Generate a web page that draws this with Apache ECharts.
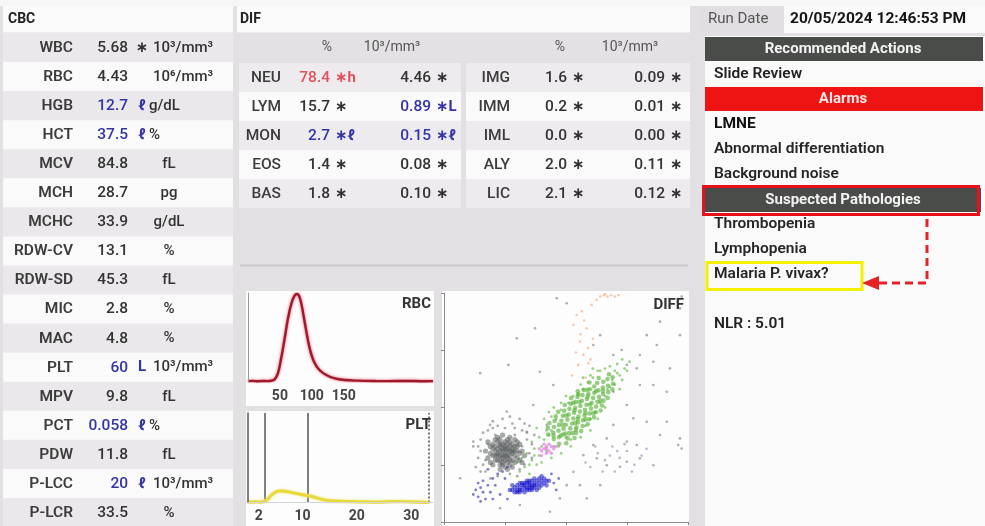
<!DOCTYPE html>
<html><head><meta charset="utf-8">
<script src="https://cdn.jsdelivr.net/npm/echarts@6/dist/echarts.min.js"></script>
<style>html,body{margin:0;padding:0;background:#e2e0e2}#c{width:985px;height:526px}</style>
</head><body><div id="c"></div>
<script>
// ---------------- DATA ----------------
const cbcLabels = ['WBC','RBC','HGB','HCT','MCV','MCH','MCHC','RDW-CV','RDW-SD','MIC','MAC','PLT','MPV','PCT','PDW','P-LCC','P-LCR'];
const cbcValues = ['5.68','4.43','12.7','37.5','84.8','28.7','33.9','13.1','45.3','2.8','4.8','60','9.8','0.058','11.8','20','33.5'];
const cbcFlags  = ['*','','ℓ','ℓ','','','','','','','','L','','ℓ','','ℓ',''];
const cbcState  = ['','','low','low','','','','','','','','low','','low','','low',''];
const cbcUnits  = ['10³/mm³','10⁶/mm³','g/dL','%','fL','pg','g/dL','%','fL','%','%','10³/mm³','fL','%','fL','10³/mm³','%'];

const difUnitHeaders = ['%','10³/mm³'];
const difLeftLabels = ['NEU','LYM','MON','EOS','BAS'];
const difLeftPct = ['78.4','15.7','2.7','1.4','1.8'];
const difLeftPctFlag = ['*h','*','*ℓ','*','*'];
const difLeftPctState = ['high','','low','',''];
const difLeftAbs = ['4.46','0.89','0.15','0.08','0.10'];
const difLeftAbsFlag = ['*','*L','*ℓ','*','*'];
const difLeftAbsState = ['','low','low','',''];
const difRightLabels = ['IMG','IMM','IML','ALY','LIC'];
const difRightPct = ['1.6','0.2','0.0','2.0','2.1'];
const difRightPctFlag = ['*','*','*','*','*'];
const difRightAbs = ['0.09','0.01','0.00','0.11','0.12'];
const difRightAbsFlag = ['*','*','*','*','*'];

const runDateLabel = 'Run Date';
const runDate = '20/05/2024 12:46:53 PM';
const recommendedActions = ['Slide Review'];
const alarms = ['LMNE','Abnormal differentiation','Background noise'];
const pathologies = ['Thrombopenia','Lymphopenia','Malaria P. vivax?'];
const nlrValue = '5.01';

// RBC histogram (fL, relative count)
const rbcCurve = [[0,1],[8,1.3],[15,0.8],[22,1.2],[30,1],[36,1.4],[41.8,3],[47,10],[52,26.6],[57.5,49],[62.7,71.5],[68,88],[73,97],[77,98.8],[81.5,94],[86,79],[91.5,56.5],[96.7,37.8],[103.5,22.8],[112,13.5],[122.7,7.9],[136,4],[151.5,2.2],[172,1.5],[200,1.1],[219,1],[250,1.2],[270,0.9],[290,1]];
const rbcTickLabels = [50,100,150];
// PLT histogram
const pltCurve = [[0,0.5],[1.2,0.6],[2.45,0.5],[3.4,2.6],[4.3,8.2],[5.2,12],[6.1,13],[7.4,12],[8.9,10],[10.4,8.2],[12,6.3],[13.5,3.7],[15.3,1.9],[17.8,1.1],[20.3,0.8],[24,0.4],[26,0.9],[27.6,1.1],[30,0.7],[33.2,0]];
const pltTickLabels = [2,10,20,30];
const pltDiscriminators = [3,11];
const pltUpperLimit = 33.3;

// DIFF scatter (channel units 0-100)
const diffGrayCore = [[25,30],[23,31],[27,29],[24,28],[26,32],[22,29],[28,31],[25,27],[23,33],[27,33],[21,31],[29,29],[24,34],[26,26],[22,27],[28,27],[20,29],[30,31],[25,35],[23,25],[27,25],[21,33],[29,33],[24,31],[26,29],[25,32],[23,29],[27,31],[22,32],[28,30],[24,26],[26,34],[20,32],[30,28],[21,27],[29,26],[25,24],[23,36],[27,35],[19,30],[31,30],[22,35],[28,34],[24,29],[26,31],[25,29],[24,32],[26,28],[23,27],[27,27],[22,30],[28,32],[21,29],[29,31],[25,33],[24,25],[26,36],[20,34],[30,33],[23,34],[18,28],[19,33],[32,31],[31,27],[20,25],[30,35],[22,37],[28,24],[17,31],[33,29],[24,38],[26,23],[19,26],[31,34],[21,36],[29,36],[23,23],[27,37],[18,35],[32,26]];
const diffGrayHalo = [[18,40],[15,36],[32,40],[34,36],[20,44],[28,43],[14,28],[33,25],[17,22],[35,30],[31,45],[22,42],[12,33],[36,34],[19,19],[30,20],[16,25],[25,41],[27,46],[13,24],[33,43],[21,38],[29,38],[18,34],[32,33],[15,31],[35,42],[24,45],[17,27],[31,23],[16,39],[14,33],[34,39],[36,28],[20,41],[29,41],[15,22],[22,20],[27,21],[37,38]];
const diffBlueCore = [[35,16],[33,15],[37,17],[31,15],[39,17],[34,14],[36,18],[30,14],[40,18],[32,16],[38,16],[29,15],[41,17],[35,14],[33,17],[37,15],[31,13],[39,19],[34,17],[36,15],[28,14],[42,18],[32,14],[38,18],[30,16],[40,16],[35,18],[33,13],[37,19],[36,16],[34,15],[31,17],[39,15],[29,13],[41,19],[35,15],[32,17],[38,14],[27,14],[43,18],[34,18],[36,14],[30,13],[40,20],[33,16],[37,16],[28,16],[42,16],[35,17],[31,14]];
const diffBlueSparse = [[14,11],[16,13],[15,9],[18,16],[13,14],[20,19],[17,10],[22,21],[19,13],[24,22],[15,15],[21,16],[25,19],[16,18],[23,12],[14,17],[18,23],[26,24],[12,12],[20,10],[45,17],[47,19],[44,21],[26,10],[46,14]];
const diffGreenCore = [[47.2,34.2],[45.0,36.2],[42.7,38.2],[50.1,34.4],[47.1,37.0],[44.8,39.0],[42.6,41.1],[50.7,36.5],[48.8,38.2],[46.9,39.9],[45.1,41.5],[43.2,43.2],[53.5,36.7],[51.3,38.7],[49.0,40.7],[47.1,42.4],[45.3,44.1],[54.1,38.9],[51.8,40.9],[49.9,42.5],[48.1,44.2],[45.8,46.2],[56.2,39.7],[54.3,41.4],[52.5,43.0],[50.6,44.7],[48.7,46.4],[46.8,48.1],[56.8,41.9],[54.9,43.5],[53.0,45.2],[51.1,46.9],[49.3,48.6],[58.9,42.7],[57.0,44.4],[55.1,46.0],[53.3,47.7],[51.4,49.4],[49.5,51.1],[59.5,44.9],[57.6,46.5],[55.7,48.2],[53.8,49.9],[51.9,51.6],[61.5,45.7],[59.6,47.4],[57.8,49.0],[55.9,50.7],[54.0,52.4],[52.1,54.1],[62.2,47.9],[60.3,49.5],[58.4,51.2],[56.5,52.9],[54.7,54.6],[64.2,48.7],[62.3,50.4],[60.5,52.0],[58.6,53.7],[56.7,55.4],[54.8,57.1],[64.8,50.9],[62.9,52.5],[61.1,54.2],[59.2,55.9],[57.3,57.6],[65.4,53.0],[63.5,54.7],[61.6,56.4],[59.8,58.0],[67.1,54.2],[65.2,55.9],[63.3,57.5],[61.5,59.2],[59.6,60.9],[67.3,56.7],[65.1,58.7],[62.8,60.7],[69.0,57.9],[67.2,59.5],[65.3,61.2],[63.4,62.9],[69.3,60.4],[67.0,62.4],[69.1,63.2],[67.6,64.5],[49.8,38.6],[48.6,42.5],[54.0,40.3],[50.1,46.5],[54.8,45.0],[53.5,48.8],[57.9,47.6],[55.5,52.5],[59.8,51.3],[58.9,54.8],[64.0,53.0],[62.3,57.2],[65.2,57.3],[58.0,44.8],[61.1,47.5],[53.8,43.2],[53.0,52.0],[55.0,55.7],[58.7,57.7],[52.7,38.8],[47.8,37.8],[44.9,37.7]];
const diffGreenSparse = [[31,22],[33,24],[35,21],[36,27],[38,25],[34,30],[39,29],[40,33],[37,32],[42,31],[41,36],[43,38],[44,40],[39,37],[45,33],[42,40],[46,45],[44,46],[48,49],[47,33],[50,37],[52,36],[51,52],[53,55],[55,56],[57,58],[60,45],[62,48],[64,52],[66,55],[67,58],[69,62],[70,66],[68,68],[72,64],[71,69],[74,67],[73,71],[66,67],[63,66],[61,63],[59,61],[68,59],[76,70],[58,42],[32,28],[36,35],[40,26],[38,41],[41,45],[43,48],[45,50],[48,52],[50,55],[56,60],[60,64],[64,66],[70,60],[72,58],[66,50],[63,45],[60,40],[56,37],[52,33],[48,30],[44,28],[35,25],[30,26],[37,29],[71,65],[73,62],[75,66],[61,67],[57,63]];
const diffMagenta = [[41,32],[42,33],[43,31],[40,31],[44,33],[42,30],[41,34],[43,34],[39,32],[45,32],[42,32],[40,29],[44,30],[46,33]];
const diffOrange = [[54.4,90.4],[58.5,84.6],[55.7,78.8],[57.1,73],[59.2,69.3],[55,68.6],[53,86],[60.5,94.8],[62.6,97],[64,98.5],[65.5,99],[67,98.5],[68.5,99],[70,98.5],[71.5,99],[66,99.5],[56,82],[59,76],[57.5,88],[54,74],[61,80],[52.5,64],[58,63],[56.5,92],[60,71]];
const diffGraySparse = [[14.8,65],[26.4,68.6],[37.3,84.6],[29.8,80.2],[46.2,97.7],[50.3,95.5],[96.7,81.6],[96.7,93.3],[97.4,98.4],[87.2,77.3],[80.3,72.9],[79,67.1],[85.8,70],[92.6,67.1],[74.9,68.6],[69.4,72.9],[64,81.6],[61.2,77.3],[72.8,75.1],[80.3,59.8],[85.8,59.8],[91.3,56.9],[83.1,43.8],[91.3,43.8],[96.7,36.5],[96,33.6],[97.4,32.1],[85.8,24.8],[80.3,27.8],[74.9,26.3],[72.1,24.1],[66.7,24.8],[62.6,27.8],[57.1,29.2],[61.2,33.6],[66.7,36.5],[53,21.9],[50.3,16.1],[47.5,10.3],[43.4,4.5],[31.1,7.4],[23,6],[55.7,16.1],[74.9,35.1],[79,33.6],[69.4,42.4],[74.9,51.1],[69.4,56.9],[77.6,45.3],[88.5,38],[58.5,10.3],[64,16.1],[18.9,42.4],[25.7,48.2],[33.9,39.4],[12,35.1],[6.6,19.1],[36.6,51.1],[42.1,42.4],[44.8,59.8],[39.3,65.6],[83.1,81.6],[88.5,87.5]];
const diffPurple = [[60,24],[63,30],[66,27],[69,33],[72,28],[75,31],[78,25],[81,29],[65,22],[70,22],[74,34],[62,33],[68,29],[77,22],[83,32],[58,26],[71,31]];

// ---------------- RENDER ----------------
const FONT = 'Roboto, "Noto Sans", "DejaVu Sans", sans-serif';
const els = [];
function rect(x, y, w, h, fill, z) {
  els.push({type: 'rect', z: z === undefined ? -5 : z, silent: true, shape: {x: x, y: y, width: w, height: h}, style: {fill: fill}});
}
function frame(x, y, w, h, stroke, lw) {
  els.push({type: 'rect', z: 30, silent: true, shape: {x: x, y: y, width: w, height: h}, style: {fill: 'none', stroke: stroke, lineWidth: lw}});
}
function txt(x, y, s, o) {
  o = o || {};
  const al = o.align || 'left';
  els.push({type: 'text', z: 40, silent: true, x: x, y: y,
    style: {text: s, fill: o.color || '#333', font: (o.weight || 'normal') + ' ' + (o.size || 15) + 'px ' + FONT,
      textAlign: al, align: al, textVerticalAlign: 'middle', verticalAlign: 'middle'}});
}
function glyph(f) { return f.replace('*', '∗'); }
function stateColor(s) { return s === 'high' ? '#e0505c' : (s === 'low' ? '#3434a6' : '#333'); }

const WHITE = '#fbfafb', ALT = '#ebe8eb';
rect(0, 0, 985, 6, '#f8f7f8');

// ---- CBC panel ----
rect(3, 6, 230, 26.5, WHITE);
txt(8, 19, 'CBC', {weight: 'bold', size: 14, color: '#222'});
const ROW = 29.06;
cbcLabels.forEach(function (lab, i) {
  const top = 33 + i * ROW, cy = top + ROW / 2 + 0.5;
  rect(3, top, 230, ROW + 0.4, i % 2 === 0 ? ALT : WHITE);
  txt(73, cy, lab, {align: 'right', weight: '600', size: 15.5, color: '#3c3c3c'});
  const col = stateColor(cbcState[i]);
  txt(128, cy, cbcValues[i], {align: 'right', weight: '500', size: 15.5, color: col});
  const u = cbcUnits[i];
  const wide = u.indexOf('10') === 0;
  if (cbcFlags[i]) {
    txt(142, cy, glyph(cbcFlags[i]), {align: 'center', weight: 'bold', size: 15, color: col});
    txt(wide ? 153 : 149, cy, u, {weight: '500', size: 15, color: '#333'});
  } else if (wide) {
    txt(153, cy, u, {weight: '500', size: 15, color: '#333'});
  } else {
    txt(169, cy, u, {align: 'center', weight: '500', size: 15, color: '#333'});
  }
});

// ---- DIF panel ----
rect(237, 6, 453, 26.5, WHITE);
txt(240, 19, 'DIF', {weight: 'bold', size: 14, color: '#222'});
rect(237, 33, 453, 29.5, '#e3e1e3');
txt(327, 47.5, difUnitHeaders[0], {align: 'center', size: 14, color: '#555'});
txt(392, 47.5, difUnitHeaders[1], {align: 'center', size: 14, color: '#555'});
txt(560, 47.5, difUnitHeaders[0], {align: 'center', size: 14, color: '#555'});
txt(630, 47.5, difUnitHeaders[1], {align: 'center', size: 14, color: '#555'});
for (let i = 0; i < difLeftLabels.length; i++) {
  const top = 63 + i * 29, cy = top + 14.5 + 0.5;
  const bg = i % 2 === 0 ? '#eeebee' : WHITE;
  rect(239, top, 222, 29, bg);
  rect(466, top, 224, 29, bg);
  txt(281, cy, difLeftLabels[i], {align: 'right', weight: '500', size: 15.5, color: '#3c3c3c'});
  let c = stateColor(difLeftPctState[i]);
  txt(330, cy, difLeftPct[i], {align: 'right', weight: '500', size: 15.5, color: c});
  txt(335, cy, glyph(difLeftPctFlag[i]), {weight: 'bold', size: 15, color: c});
  c = stateColor(difLeftAbsState[i]);
  txt(431, cy, difLeftAbs[i], {align: 'right', weight: '500', size: 15.5, color: c});
  txt(436, cy, glyph(difLeftAbsFlag[i]), {weight: 'bold', size: 15, color: c});
  txt(510, cy, difRightLabels[i], {align: 'right', weight: '500', size: 15.5, color: '#3c3c3c'});
  txt(567, cy, difRightPct[i], {align: 'right', weight: '500', size: 15.5, color: '#333'});
  txt(572, cy, glyph(difRightPctFlag[i]), {weight: 'bold', size: 15, color: '#333'});
  txt(665, cy, difRightAbs[i], {align: 'right', weight: '500', size: 15.5, color: '#333'});
  txt(670, cy, glyph(difRightAbsFlag[i]), {weight: 'bold', size: 15, color: '#333'});
}
rect(240, 264.5, 448, 2, '#c9c7c9');
rect(246, 291, 188, 115, '#fdfdfd');
rect(246, 411, 188, 115, '#fdfdfd');
rect(442, 291, 247, 235, '#fdfdfd');
txt(431, 304, 'RBC', {align: 'right', weight: 'bold', size: 15, color: '#333'});
txt(431, 425, 'PLT', {align: 'right', weight: 'bold', size: 15, color: '#333'});
txt(684, 305, 'DIFF', {align: 'right', weight: 'bold', size: 15, color: '#333'});

// ---- Right panel ----
rect(700, 6, 84, 27, '#e2dfe2');
rect(784, 6, 201, 27, WHITE);
txt(708, 19.5, runDateLabel, {size: 15, color: '#555'});
txt(790, 19.5, runDate, {weight: 'bold', size: 15.5, color: '#151515'});
rect(705, 36, 280, 490, WHITE);
rect(705, 37, 278, 24, '#4a4c4a', -2);
txt(843, 49, 'Recommended Actions', {align: 'center', weight: 'bold', size: 15, color: '#f2f2f2'});
recommendedActions.forEach(function (s, i) { txt(714, 74 + i * 25, s, {weight: '600', size: 15.5, color: '#222'}); });
rect(705, 87, 278, 24, '#ee1414', -2);
txt(843, 99, 'Alarms', {align: 'center', weight: 'bold', size: 15, color: '#f8e8e8'});
alarms.forEach(function (s, i) { txt(714, 124.5 + i * 25, s, {weight: i === 0 ? 'bold' : '600', size: 15.5, color: i === 0 ? '#111' : '#262626'}); });
rect(705, 188, 276, 24, '#4a4c4a', -2);
txt(843, 200, 'Suspected Pathologies', {align: 'center', weight: 'bold', size: 15, color: '#f2f2f2'});
frame(703.5, 186.5, 275, 28, '#e8101a', 3);
pathologies.forEach(function (s, i) { txt(714, 224.5 + i * 25, s, {weight: '600', size: 15.5, color: '#262626'}); });
frame(707, 262.5, 155, 27, '#f4f000', 3);
txt(714, 324.5, 'NLR : ' + nlrValue, {weight: '600', size: 15.5, color: '#222'});
els.push({type: 'polyline', z: 35, silent: true, shape: {points: [[927, 219], [927, 283], [879, 283]]},
  style: {stroke: '#e52226', lineWidth: 3, lineDash: [8, 5], fill: null}});
els.push({type: 'polygon', z: 35, silent: true, shape: {points: [[862, 283], [879, 276], [879, 290]]}, style: {fill: '#e52226'}});

// ---------------- CHART ----------------
const axisFont = {color: '#444', fontWeight: 'bold', fontSize: 14, fontFamily: FONT, margin: 7};
function onlyLabels(list) { return function (v) { return list.indexOf(v) >= 0 ? String(v) : ''; }; }
function scat(data, color, size) {
  return {type: 'scatter', xAxisIndex: 2, yAxisIndex: 2, data: data, symbol: 'circle', symbolSize: size,
    itemStyle: {color: color}, silent: true, z: 5};
}
const option = {
  animation: false,
  backgroundColor: '#e2e0e2',
  graphic: {elements: els},
  grid: [
    {left: 248, top: 293, width: 185, height: 89},
    {left: 248, top: 413, width: 185, height: 89.5},
    {left: 444, top: 293, width: 244, height: 229}
  ],
  xAxis: [
    {gridIndex: 0, type: 'value', z: 20, min: 0, max: 290, interval: 50, axisLine: {show: false},
      axisTick: {show: false},
      axisLabel: Object.assign({formatter: onlyLabels(rbcTickLabels), showMaxLabel: false}, axisFont), splitLine: {show: false}},
    {gridIndex: 1, type: 'value', z: 20, min: 0, max: 34, interval: 2, axisLine: {show: true, lineStyle: {color: '#d5d5d5'}},
      axisTick: {show: false},
      axisLabel: Object.assign({formatter: onlyLabels(pltTickLabels), showMaxLabel: false}, axisFont), splitLine: {show: false}},
    {gridIndex: 2, type: 'value', z: 20, min: 0, max: 100, interval: 25, axisLine: {show: true, lineStyle: {color: '#8a8a8a'}},
      axisTick: {show: true, length: 3, lineStyle: {color: '#8a8a8a'}}, axisLabel: {show: false}, splitLine: {show: false}}
  ],
  yAxis: [
    {gridIndex: 0, type: 'value', z: 20, min: 0, max: 100, axisLine: {show: true, lineStyle: {color: '#9a9a9a'}},
      axisTick: {show: false}, axisLabel: {show: false}, splitLine: {show: false}},
    {gridIndex: 1, type: 'value', z: 20, min: 0, max: 100, axisLine: {show: true, lineStyle: {color: '#555', width: 1.5}},
      axisTick: {show: false}, axisLabel: {show: false}, splitLine: {show: false}},
    {gridIndex: 2, type: 'value', z: 20, min: 0, max: 100, interval: 25, axisLine: {show: true, lineStyle: {color: '#8a8a8a'}},
      axisTick: {show: true, length: 3, lineStyle: {color: '#8a8a8a'}}, axisLabel: {show: false}, splitLine: {show: false}}
  ],
  series: [
    {type: 'line', xAxisIndex: 0, yAxisIndex: 0, data: rbcCurve, smooth: 0.35, showSymbol: false, silent: true,
      lineStyle: {color: '#9d1a2b', width: 2.4, shadowColor: 'rgba(235,70,90,0.9)', shadowBlur: 3}, z: 5},
    {type: 'line', xAxisIndex: 1, yAxisIndex: 1, data: pltCurve, smooth: 0.35, showSymbol: false, silent: true,
      lineStyle: {color: '#e8da3c', width: 3.2, shadowColor: 'rgba(240,230,110,0.8)', shadowBlur: 3}, z: 5,
      markLine: {silent: true, symbol: 'none', label: {show: false}, animation: false,
        lineStyle: {color: '#555', width: 1.5, type: 'solid'},
        data: pltDiscriminators.map(function (v) { return {xAxis: v}; }).concat([
          {xAxis: pltUpperLimit, lineStyle: {color: '#777', width: 2, type: 'dotted'}}])}},
    scat(diffGraySparse, 'rgba(120,120,120,0.75)', 2.6),
    scat(diffPurple, 'rgba(150,130,175,0.75)', 2.6),
    scat(diffOrange, 'rgba(240,170,120,0.8)', 2.6),
    scat(diffGreenSparse, 'rgba(100,185,70,0.8)', 2.8),
    scat(diffGreenCore, 'rgba(80,175,45,0.75)', 4.6),
    scat(diffMagenta, 'rgba(225,110,225,0.8)', 3.4),
    scat(diffGrayHalo, 'rgba(110,110,110,0.7)', 2.8),
    scat(diffGrayCore, 'rgba(85,88,88,0.65)', 5.2),
    scat(diffBlueSparse, 'rgba(40,40,170,0.75)', 2.8),
    scat(diffBlueCore, 'rgba(10,10,200,0.65)', 4.6)
  ]
};
const chart = echarts.init(document.getElementById('c'));
chart.setOption(option);
</script>
</body></html>
